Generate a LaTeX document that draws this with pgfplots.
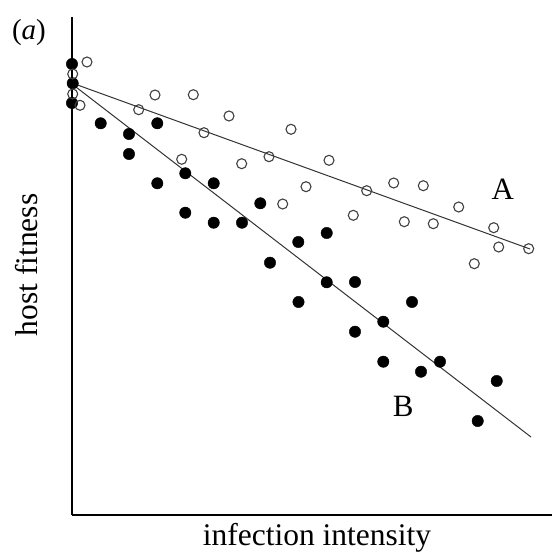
\documentclass[border=0pt]{standalone}
\usepackage{fontspec}
\setmainfont{Liberation Serif}
\usepackage{pgfplots}
\pgfplotsset{compat=1.18}

% data in pixel-like units: x = 0..480, y = 0..498
\pgfplotstableread{
x y
0 451
0.7 431.7
0 412
28.7 391.7
57 381
57 361
85.3 391.7
113.3 341.7
85.3 331.7
141.7 331.7
188.3 311.7
113.3 302.3
141.7 292.3
170 292.3
226.3 273
198 252.3
226.5 213
254.7 282
254.7 232.7
283 233
340 213
311.3 193.3
283 183.3
311.3 153.3
349 143.3
368 153.3
424.7 134
405.7 94
}\groupB

\pgfplotstableread{
x y
15 453
0.7 441
0.7 421
8 409.7
66.7 405.3
83 420
121.3 420.3
157 399
132 382.3
219 385.7
197 358.3
109.7 355.7
169.7 351.3
234 328.3
210.7 311
257 354.7
294.7 324.3
321.7 332
351.3 329.3
281.3 299.7
332.3 293.3
361.3 291.3
386.7 308
421.7 287.3
426.7 268
402.3 251.3
456.7 266.3
}\groupA

\begin{document}
\begin{tikzpicture}
\useasboundingbox (-72pt,-37pt) rectangle (480pt,515pt);
\begin{axis}[
  scale only axis,
  x=1pt, y=1pt,
  xmin=0, xmax=480, ymin=0, ymax=498,
  axis lines*=left,
  axis line style={line width=1.3pt},
  xtick=\empty, ytick=\empty,
  clip=false,
  xlabel={infection intensity},
  ylabel={host fitness},
  every axis x label/.style={at={(axis cs:245,-30)}, anchor=base,
    font=\fontsize{31.5}{36}\selectfont},
  every axis y label/.style={at={(axis cs:-34,250)}, anchor=base, rotate=90,
    font=\fontsize{31.5}{36}\selectfont},
]
\addplot[black!80, line width=1pt] coordinates {(0,432) (458,266)};
\addplot[black!80, line width=1pt] coordinates {(0,431) (459,78)};
\addplot[only marks, mark=*, mark size=5.7pt, mark options={fill=black, draw=black}] table {\groupB};
\addplot[only marks, mark=o, mark size=5pt, mark options={draw=black!75, line width=1.1pt, fill=white}] table {\groupA};
\node[anchor=base, font=\fontsize{29}{36}\selectfont] at (axis cs:-43,475) {(\textit{a})};
\node[anchor=base, font=\fontsize{31}{36}\selectfont] at (axis cs:430.7,315) {A};
\node[anchor=base, font=\fontsize{31}{36}\selectfont] at (axis cs:331.3,98.3) {B};
\end{axis}
\end{tikzpicture}
\end{document}
